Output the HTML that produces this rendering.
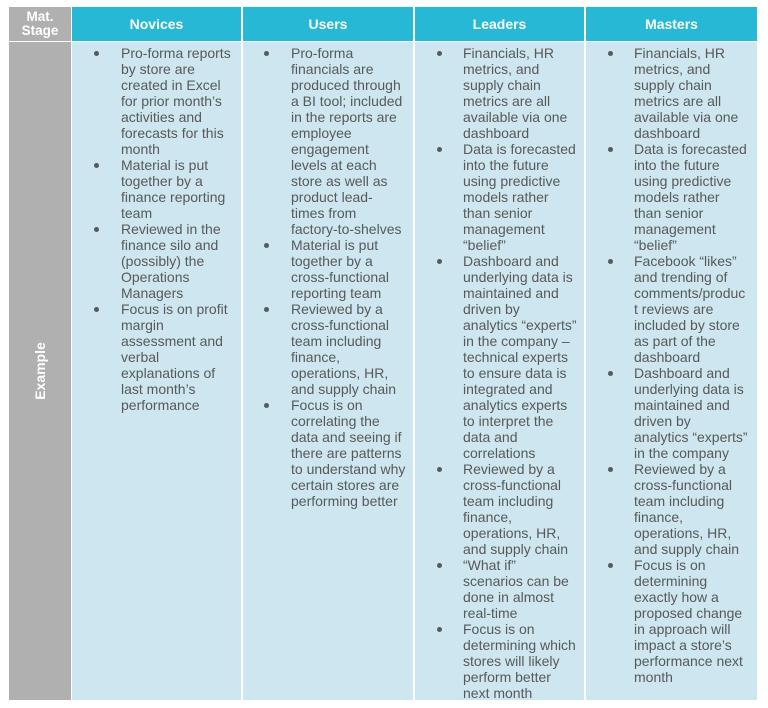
<!DOCTYPE html>
<html><head><meta charset="utf-8"><style>
body{margin:0;width:768px;height:708px;background:#fff;position:relative;font-family:"Liberation Sans",Arial,sans-serif;overflow:hidden}
.c{position:absolute;box-sizing:border-box}
.h{background:#26b8d5;color:#fff;font-weight:bold;font-size:14px;text-align:center;top:7px;height:34px;line-height:34px}
.b{background:#cde6ef;top:42px;height:658px}
.t{position:absolute;color:#595959;font-size:14px;line-height:16px;white-space:nowrap}
.d{position:absolute;width:5px;height:5px;border-radius:50%;background:#595959}
</style></head><body>
<div class="c h" style="left:9px;width:62px;background:#b0b0b0;line-height:14px;padding-top:3px;font-size:13.5px">Mat.<br>Stage</div>
<div class="c h" style="left:72px;width:169px">Novices</div>
<div class="c h" style="left:243px;width:170px">Users</div>
<div class="c h" style="left:415px;width:169px">Leaders</div>
<div class="c h" style="left:586px;width:171px">Masters</div>
<div class="c b" style="left:9px;width:62px;background:#b0b0b0"></div>
<div style="position:absolute;left:40px;top:371px;transform:translate(-50%,-50%) rotate(-90deg);color:#fff;font-weight:bold;font-size:14px">Example</div>
<div class="c b" style="left:72px;width:169px"></div>
<div class="c b" style="left:243px;width:170px"></div>
<div class="c b" style="left:415px;width:169px"></div>
<div class="c b" style="left:586px;width:171px"></div>

<div class="t" style="left:121px;top:45px">Pro-forma reports<br>by store are<br>created in Excel<br>for prior month’s<br>activities and<br>forecasts for this<br>month<br>Material is put<br>together by a<br>finance reporting<br>team<br>Reviewed in the<br>finance silo and<br>(possibly) the<br>Operations<br>Managers<br>Focus is on profit<br>margin<br>assessment and<br>verbal<br>explanations of<br>last month’s<br>performance</div>
<div class="d" style="left:94px;top:51px"></div><div class="d" style="left:94px;top:163px"></div><div class="d" style="left:94px;top:227px"></div><div class="d" style="left:94px;top:307px"></div>

<div class="t" style="left:291px;top:45px">Pro-forma<br>financials are<br>produced through<br>a BI tool; included<br>in the reports are<br>employee<br>engagement<br>levels at each<br>store as well as<br>product lead-<br>times from<br>factory-to-shelves<br>Material is put<br>together by a<br>cross-functional<br>reporting team<br>Reviewed by a<br>cross-functional<br>team including<br>finance,<br>operations, HR,<br>and supply chain<br>Focus is on<br>correlating the<br>data and seeing if<br>there are patterns<br>to understand why<br>certain stores are<br>performing better</div>
<div class="d" style="left:264px;top:51px"></div><div class="d" style="left:264px;top:243px"></div><div class="d" style="left:264px;top:307px"></div><div class="d" style="left:264px;top:403px"></div>

<div class="t" style="left:463px;top:45px">Financials, HR<br>metrics, and<br>supply chain<br>metrics are all<br>available via one<br>dashboard<br>Data is forecasted<br>into the future<br>using predictive<br>models rather<br>than senior<br>management<br>“belief”<br>Dashboard and<br>underlying data is<br>maintained and<br>driven by<br>analytics “experts”<br>in the company –<br>technical experts<br>to ensure data is<br>integrated and<br>analytics experts<br>to interpret the<br>data and<br>correlations<br>Reviewed by a<br>cross-functional<br>team including<br>finance,<br>operations, HR,<br>and supply chain<br>“What if”<br>scenarios can be<br>done in almost<br>real-time<br>Focus is on<br>determining which<br>stores will likely<br>perform better<br>next month</div>
<div class="d" style="left:437px;top:51px"></div><div class="d" style="left:437px;top:147px"></div><div class="d" style="left:437px;top:259px"></div><div class="d" style="left:437px;top:467px"></div><div class="d" style="left:437px;top:563px"></div><div class="d" style="left:437px;top:627px"></div>

<div class="t" style="left:634px;top:45px">Financials, HR<br>metrics, and<br>supply chain<br>metrics are all<br>available via one<br>dashboard<br>Data is forecasted<br>into the future<br>using predictive<br>models rather<br>than senior<br>management<br>“belief”<br>Facebook “likes”<br>and trending of<br>comments/produc<br>t reviews are<br>included by store<br>as part of the<br>dashboard<br>Dashboard and<br>underlying data is<br>maintained and<br>driven by<br>analytics “experts”<br>in the company<br>Reviewed by a<br>cross-functional<br>team including<br>finance,<br>operations, HR,<br>and supply chain<br>Focus is on<br>determining<br>exactly how a<br>proposed change<br>in approach will<br>impact a store’s<br>performance next<br>month</div>
<div class="d" style="left:608px;top:51px"></div><div class="d" style="left:608px;top:147px"></div><div class="d" style="left:608px;top:259px"></div><div class="d" style="left:608px;top:371px"></div><div class="d" style="left:608px;top:467px"></div><div class="d" style="left:608px;top:563px"></div>
</body></html>
